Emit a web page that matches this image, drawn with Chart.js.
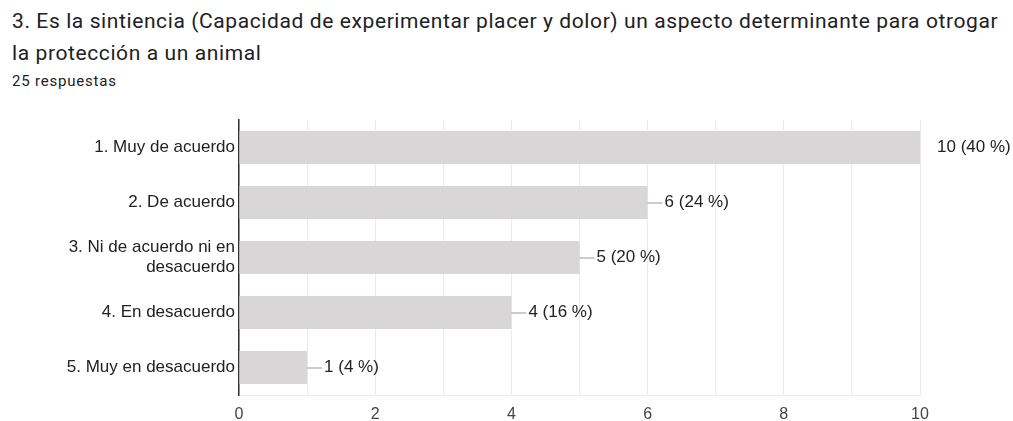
<!DOCTYPE html>
<html>
<head>
<meta charset="utf-8">
<script src="https://cdn.jsdelivr.net/npm/chart.js@4"></script>
<style>
  html, body { margin: 0; padding: 0; background: #fff; }
  #wrap { position: relative; width: 1013px; height: 421px; overflow: hidden; }
  #title { position: absolute; left: 12px; top: 5px; width: 1000px; font-family: Roboto, sans-serif; font-size: 21px; letter-spacing: 0.6px; line-height: 32px; color: #202124; white-space: nowrap; }
  #sub { position: absolute; left: 12px; top: 72px; font-family: Roboto, sans-serif; font-size: 15px; letter-spacing: 0.8px; color: #202124; }
  #chart { position: absolute; left: 0; top: 0; }
</style>
</head>
<body>
<div id="wrap">
  <div id="title">3. Es la sintiencia (Capacidad de experimentar placer y dolor) un aspecto determinante para otrogar<br>la protección a un animal</div>
  <div id="sub">25 respuestas</div>
  <canvas id="chart" width="1013" height="421"></canvas>
</div>
<script>
// datos
const categories = [
  '1. Muy de acuerdo',
  '2. De acuerdo',
  ['3. Ni de acuerdo ni en', 'desacuerdo'],
  '4. En desacuerdo',
  '5. Muy en desacuerdo'
];
const counts = [10, 6, 5, 4, 1];
const percents = [40, 24, 20, 16, 4];
const xTicks = [0, 2, 4, 6, 8, 10];

// etiquetas con la rayita al final de cada barra
const barLabels = {
  id: 'barLabels',
  afterDatasetsDraw(chart) {
    const ctx = chart.ctx;
    const meta = chart.getDatasetMeta(0);
    const xMax = chart.scales.x.max;
    ctx.save();
    ctx.font = '17px "Liberation Sans", Arial, sans-serif';
    ctx.textBaseline = 'middle';
    ctx.textAlign = 'left';
    meta.data.forEach((bar, i) => {
      const x = bar.x, y = bar.y;
      if (counts[i] < xMax) {
        ctx.strokeStyle = '#999';
        ctx.lineWidth = 1;
        ctx.beginPath();
        ctx.moveTo(x, y + 0.5);
        ctx.lineTo(x + 15, y + 0.5);
        ctx.stroke();
      }
      ctx.fillStyle = '#222';
      ctx.fillText(counts[i] + ' (' + percents[i] + ' %)', x + 17, y);
    });
    ctx.restore();
  }
};

const ctx = document.getElementById('chart').getContext('2d');
new Chart(ctx, {
  type: 'bar',
  data: {
    labels: categories,
    datasets: [{
      data: counts,
      backgroundColor: '#d8d6d7',
      categoryPercentage: 1,
      barPercentage: 0.6
    }]
  },
  options: {
    indexAxis: 'y',
    responsive: false,
    animation: false,
    layout: { padding: { top: 120, right: 93, bottom: 0, left: 0 } },
    plugins: { legend: { display: false }, tooltip: { enabled: false } },
    scales: {
      x: {
        min: 0,
        max: 10,
        afterFit(scale) { scale.height = 26; },
        grid: { color: '#ebebeb', drawTicks: false },
        border: { color: '#ebebeb' },
        ticks: {
          stepSize: 1,
          padding: 10,
          color: '#444',
          font: { family: '"Liberation Sans", Arial, sans-serif', size: 16 },
          callback: (v) => xTicks.includes(v) ? v : ''
        }
      },
      y: {
        afterFit(scale) { scale.width = 239; },
        grid: { display: false, drawTicks: false },
        border: { color: '#333', width: 1.5 },
        ticks: {
          padding: 4,
          color: '#222',
          font: { family: '"Liberation Sans", Arial, sans-serif', size: 17, lineHeight: 1.2 }
        }
      }
    }
  },
  plugins: [barLabels]
});
</script>
</body>
</html>
